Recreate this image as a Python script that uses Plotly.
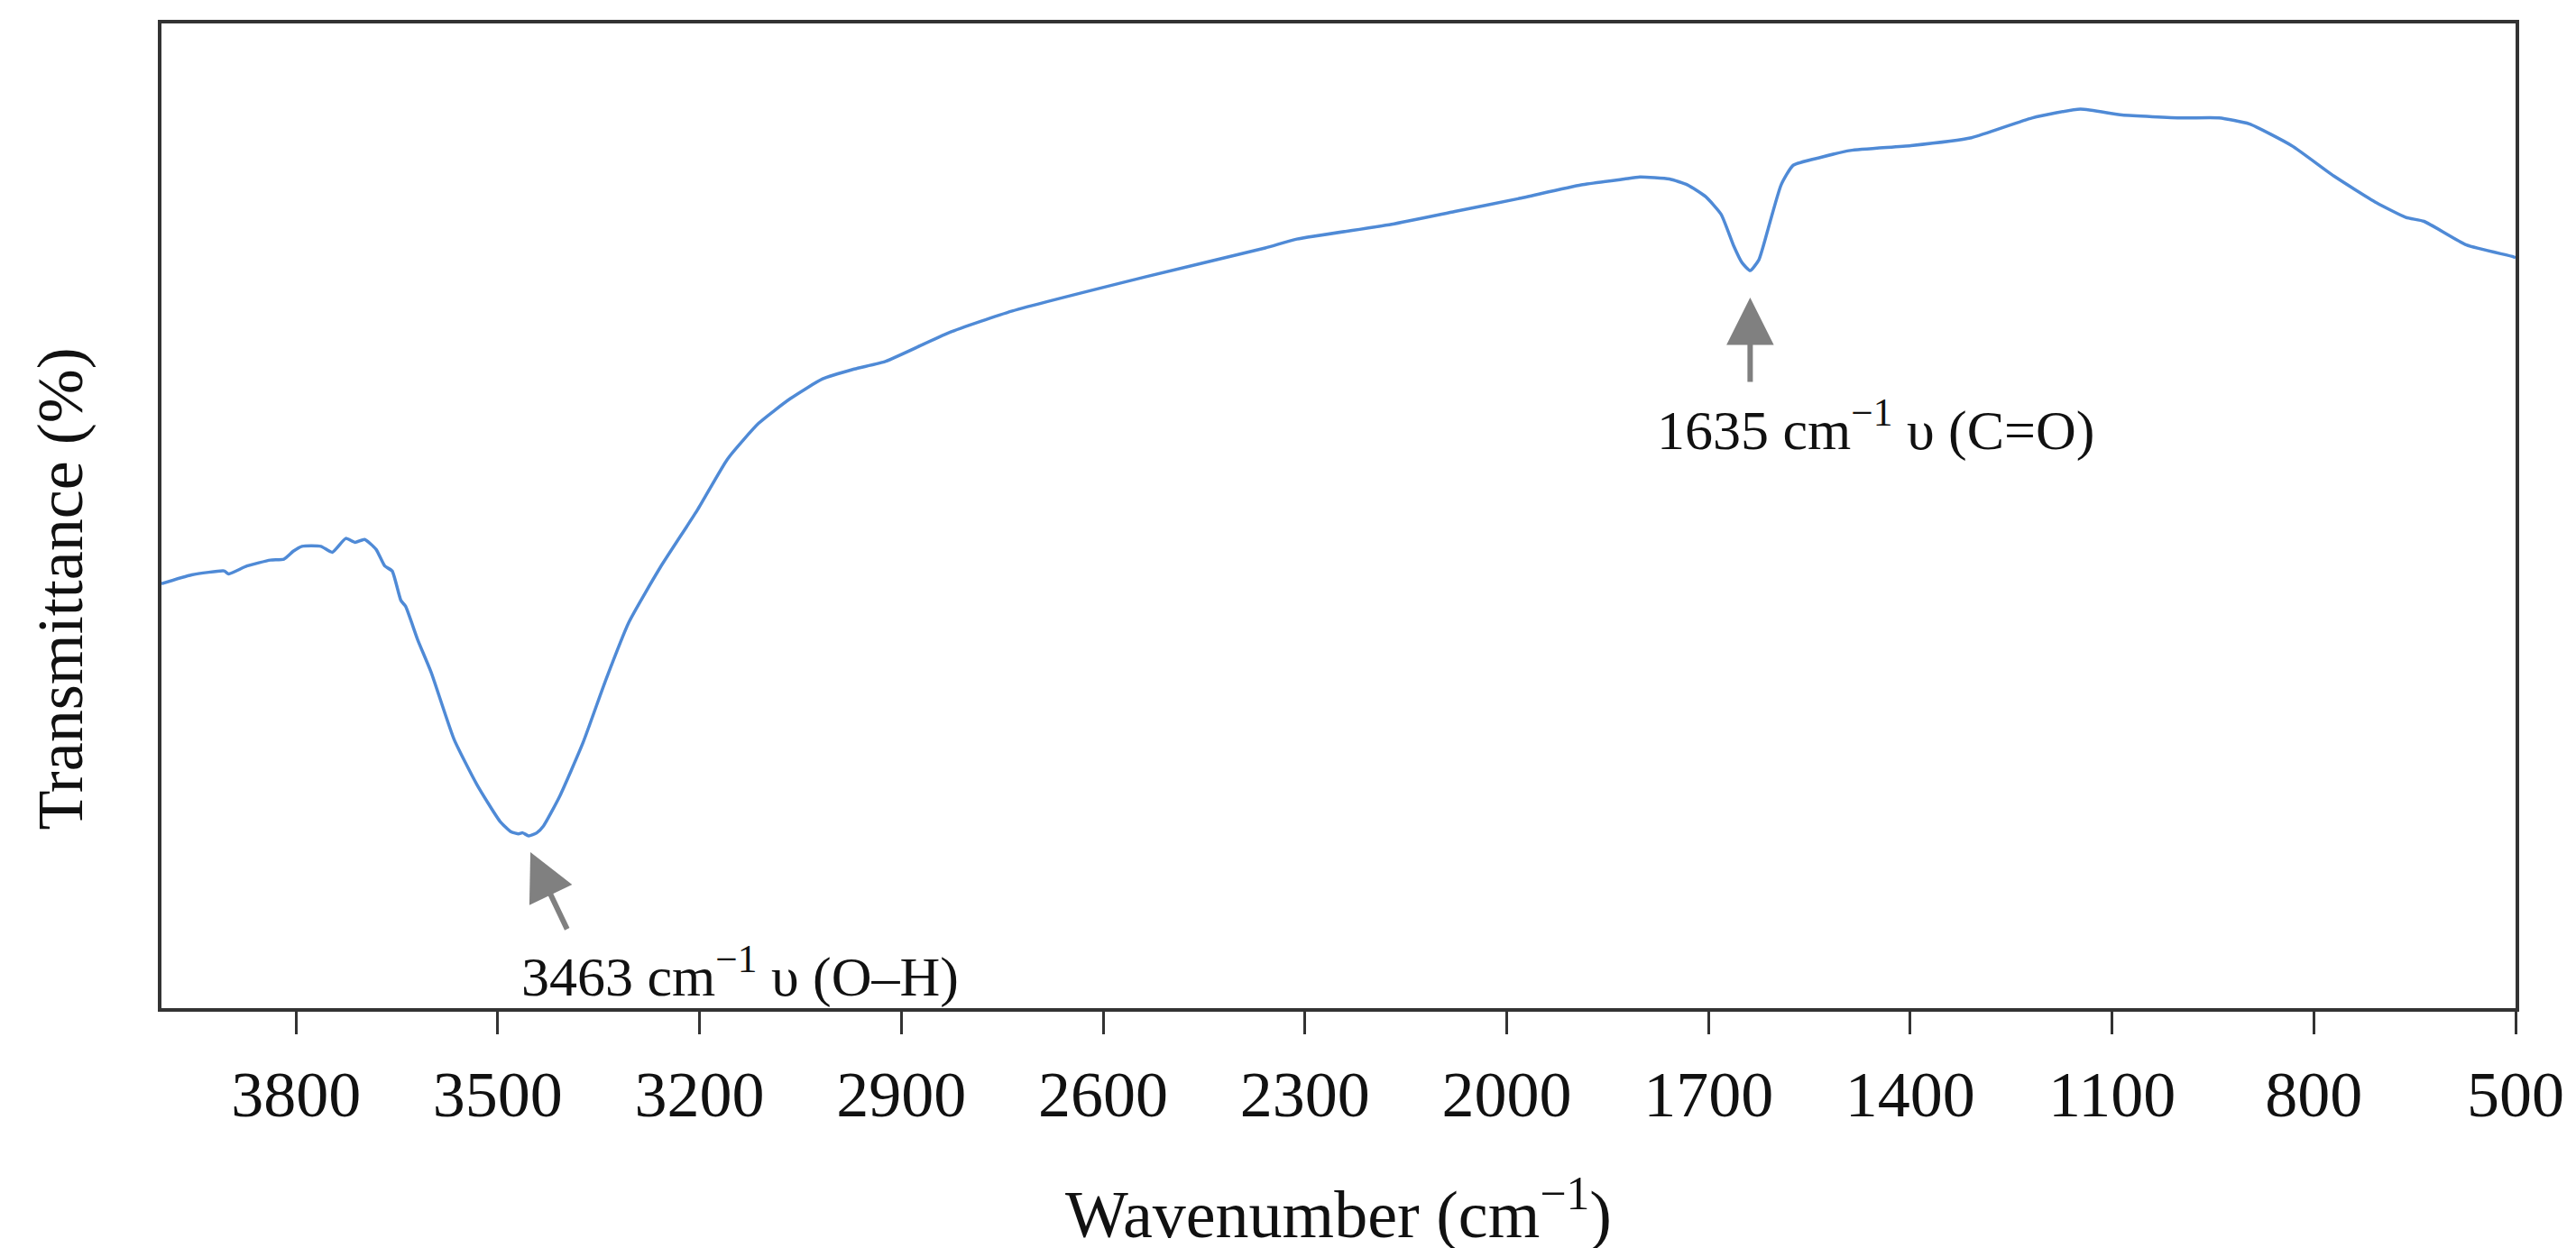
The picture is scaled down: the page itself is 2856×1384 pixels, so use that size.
import plotly.graph_objects as go

# FTIR spectrum (wavenumber in cm-1, transmittance in arbitrary %)
wavenumber = [
    4000, 3955, 3907, 3900, 3873, 3838, 3818, 3804, 3791, 3763, 3746, 3726,
    3712, 3698, 3681, 3668, 3657, 3644, 3637, 3619, 3599, 3565, 3531, 3497,
    3480, 3469, 3463, 3454, 3442, 3432, 3408, 3373, 3339, 3305, 3258, 3203,
    3158, 3112, 3065, 3017, 2970, 2923, 2829, 2735, 2547, 2359, 2312, 2171,
    2077, 1983, 1889, 1825, 1802, 1758, 1731, 1704, 1681, 1663, 1650, 1638,
    1625, 1609, 1592, 1574, 1533, 1489, 1399, 1309, 1219, 1147, 1085, 995,
    941, 896, 833, 770, 707, 663, 636, 573, 503, 500,
]
transmittance = [
    43.1, 44.0, 44.4, 44.1, 44.9, 45.5, 45.6, 46.4, 46.9, 46.9, 46.3, 47.7,
    47.3, 47.6, 46.6, 44.9, 44.4, 41.4, 40.8, 37.4, 34.1, 27.3, 22.7, 19.0,
    17.9, 17.7, 17.8, 17.5, 17.8, 18.5, 21.5, 27.0, 33.4, 39.2, 44.8, 50.6,
    55.8, 59.4, 61.9, 63.9, 64.9, 65.7, 68.6, 70.8, 74.1, 77.2, 78.1, 79.6,
    80.9, 82.2, 83.6, 84.2, 84.4, 84.2, 83.6, 82.4, 80.6, 77.5, 75.7, 74.9,
    76.0, 79.7, 83.6, 85.6, 86.4, 87.1, 87.6, 88.4, 90.4, 91.3, 90.7, 90.4,
    90.4, 89.8, 87.6, 84.5, 81.8, 80.3, 79.9, 77.5, 76.3, 76.2,
]

tick_vals = [3800, 3500, 3200, 2900, 2600, 2300, 2000, 1700, 1400, 1100, 800, 500]

# peak labels
peaks_x = [3463, 1638]
peaks_y = [17.5, 74.9]
peak_labels = ["3463 cm<sup>−1</sup> υ (O–H)", "1635 cm<sup>−1</sup> υ (C=O)"]

serif = "Liberation Serif"
axis_color = "#333333"
arrow_color = "#808080"

fig = go.Figure()
fig.add_trace(go.Scatter(
    x=wavenumber, y=transmittance, mode="lines",
    line=dict(color="#4f8ad6", width=3.5, shape="spline", smoothing=0.5),
    showlegend=False,
))

# arrows pointing at the two bands
fig.add_annotation(x=peaks_x[0], y=peaks_y[0], text="", showarrow=True,
                   ax=50, ay=105, standoff=20, arrowhead=2, arrowsize=1.75,
                   arrowwidth=6, arrowcolor=arrow_color)
fig.add_annotation(x=peaks_x[1], y=peaks_y[1], text="", showarrow=True,
                   ax=0, ay=125, standoff=30, arrowhead=2, arrowsize=1.75,
                   arrowwidth=6, arrowcolor=arrow_color)

# band labels
fig.add_annotation(x=3140, y=3.6, text=peak_labels[0], showarrow=False,
                   font=dict(family=serif, size=62, color="#111111"))
fig.add_annotation(x=1451, y=59.1, text=peak_labels[1], showarrow=False,
                   font=dict(family=serif, size=62, color="#111111"))

# y title, sits a little below the middle of the axis
fig.add_annotation(xref="paper", yref="paper", x=-0.043, y=0.426,
                   text="Transmittance (%)", textangle=-90, showarrow=False,
                   xanchor="center", yanchor="middle",
                   font=dict(family=serif, size=72, color="#111111"))

fig.update_xaxes(
    range=[4000, 500], tickvals=tick_vals, ticks="outside", ticklen=25,
    tickwidth=3, tickcolor=axis_color, showline=True, linewidth=4,
    linecolor=axis_color, mirror=True, showgrid=False, zeroline=False,
    ticklabelstandoff=5,
    tickfont=dict(family=serif, size=72, color="#111111"),
    title=dict(text="Wavenumber (cm<sup>−1</sup>)", standoff=68,
               font=dict(family=serif, size=74, color="#111111")),
)
fig.update_yaxes(
    range=[0, 100], showticklabels=False, ticks="", showline=True,
    linewidth=4, linecolor=axis_color, mirror=True, showgrid=False,
    zeroline=False,
)

fig.update_layout(
    width=2856, height=1384,
    margin=dict(l=171, r=75, t=18, b=274),
    plot_bgcolor="white", paper_bgcolor="white",
)

fig.write_html("out.html")
